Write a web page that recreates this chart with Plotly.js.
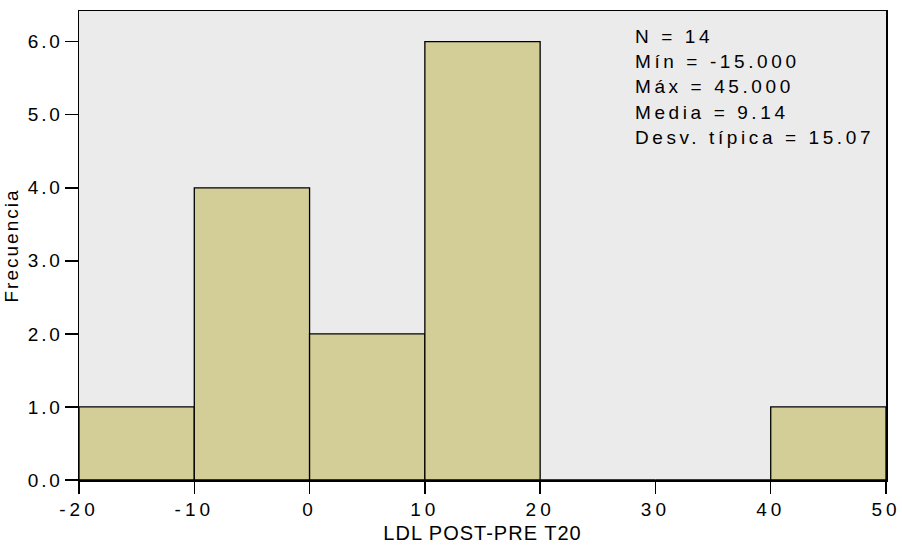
<!DOCTYPE html>
<html>
<head>
<meta charset="utf-8">
<script src="https://cdn.plot.ly/plotly-3.0.1.min.js"></script>
<style>
  html, body { margin: 0; padding: 0; background: #fff; }
  #chart { width: 902px; height: 545px; }
  .xtick text { letter-spacing: 4px; }
  .ytick text { letter-spacing: 2.8px; }
  .xtitle { letter-spacing: 1px; }
  .ytitle { letter-spacing: 2px; }
  .annotation-text { letter-spacing: 3.6px; }
</style>
</head>
<body>
<div id="chart"></div>
<script>
// Histogram bins (lower edges), bin width and counts
const binStarts = [-20, -10, 0, 10, 20, 30, 40];
const binWidth = 10;
const counts = [1, 4, 2, 6, 0, 0, 1];

// Summary statistics text
const statLines = [
  "N = 14",
  "Mín = -15.000",
  "Máx = 45.000",
  "Media = 9.14",
  "Desv. típica = 15.07"
];

const xTickVals = [-20, -10, 0, 10, 20, 30, 40, 50];
const yTickVals = [0, 1, 2, 3, 4, 5, 6];

const font = "Liberation Sans, Arial, Helvetica, sans-serif";

const trace = {
  type: "bar",
  x: binStarts.map(b => b + binWidth / 2),
  y: counts,
  width: binStarts.map(() => binWidth),
  marker: { color: "#d3ce98", line: { color: "#000", width: 1.3 } },
  hoverinfo: "x+y"
};

// plot area geometry (pixels) used to place the stats lines
const plotTop = 11, plotBottom = 480;
const lineCenters = [37, 62, 87, 112, 137];
const annotations = statLines.map((t, i) => ({
  text: t,
  xref: "paper", yref: "paper",
  x: 0.6865, y: (plotBottom - lineCenters[i]) / (plotBottom - plotTop),
  xanchor: "left", yanchor: "middle",
  showarrow: false,
  font: { family: font, size: 19, color: "#000" }
}));

const layout = {
  width: 902, height: 545,
  margin: { l: 79, r: 16, t: 11, b: 65, pad: 0 },
  paper_bgcolor: "#ffffff",
  plot_bgcolor: "#ebebeb",
  showlegend: false,
  font: { family: font, size: 19, color: "#000" },
  xaxis: {
    range: [-20, 50],
    tickvals: xTickVals,
    ticktext: xTickVals.map(String),
    ticks: "outside", ticklen: 12, tickwidth: 1.5, tickcolor: "#000",
    showline: true, linecolor: "#000", linewidth: 1.5, mirror: true,
    showgrid: false, zeroline: false,
    tickfont: { family: font, size: 19, color: "#000" },
    title: { text: "LDL POST-PRE T20", font: { family: font, size: 20, color: "#000" }, standoff: 6 }
  },
  yaxis: {
    range: [0, 6.42],
    tickvals: yTickVals,
    tickformat: ".1f",
    ticks: "outside", ticklen: 13, tickwidth: 1.5, tickcolor: "#000",
    ticklabelstandoff: -2,
    showline: true, linecolor: "#000", linewidth: 1.5, mirror: true,
    showgrid: false, zeroline: false,
    tickfont: { family: font, size: 19, color: "#000" },
    title: { text: "Frecuencia", font: { family: font, size: 19, color: "#000" }, standoff: 4 }
  },
  annotations: annotations,
  bargap: 0
};

Plotly.newPlot("chart", [trace], layout, { displayModeBar: false, staticPlot: true });
</script>
</body>
</html>
